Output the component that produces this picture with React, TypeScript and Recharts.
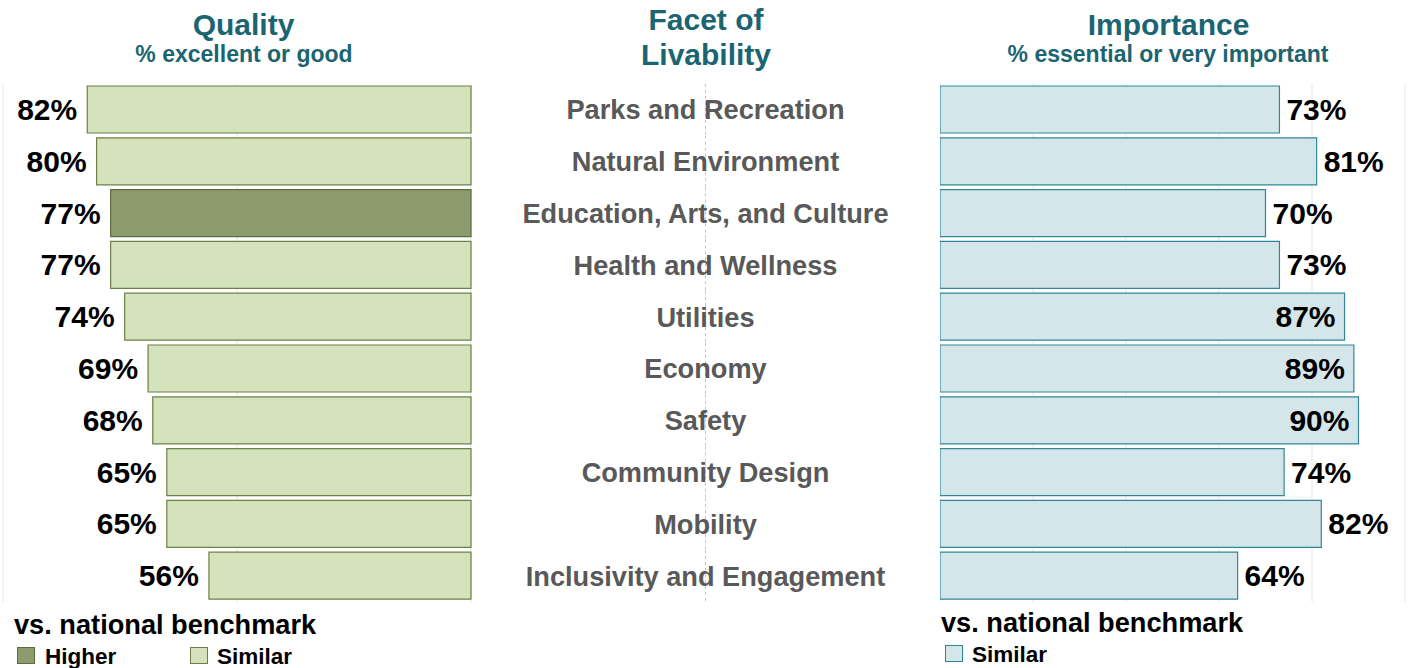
import { BarChart, Bar, XAxis, YAxis, CartesianGrid, Cell, LabelList } from "recharts";

const facets = [
  "Parks and Recreation",
  "Natural Environment",
  "Education, Arts, and Culture",
  "Health and Wellness",
  "Utilities",
  "Economy",
  "Safety",
  "Community Design",
  "Mobility",
  "Inclusivity and Engagement",
];
const quality = [82, 80, 77, 77, 74, 69, 68, 65, 65, 56];
const qualityBenchmark = ["Similar", "Similar", "Higher", "Similar", "Similar", "Similar", "Similar", "Similar", "Similar", "Similar"];
const importance = [73, 81, 70, 73, 87, 89, 90, 74, 82, 64];
const importanceBenchmark = ["Similar", "Similar", "Similar", "Similar", "Similar", "Similar", "Similar", "Similar", "Similar", "Similar"];

const data = facets.map((facet, i) => ({
  facet,
  quality: quality[i],
  qualityBench: qualityBenchmark[i],
  importance: importance[i],
  importanceBench: importanceBenchmark[i],
}));

const FONT = '"Liberation Sans", Arial, sans-serif';
const TEAL = "#1b6572";
const GREEN = { Higher: { fill: "#8c9c6c", stroke: "#5d6c3d" }, Similar: { fill: "#d5e3bc", stroke: "#6e7f47" } };
const BLUE = { fill: "#d5e6ea", stroke: "#2f8797" };

function CenterTick({ x, y, payload }: any) {
  const cx = x + 234.5;
  return (
    <g>
      <line x1={cx} x2={cx} y1={y - 26} y2={y + 26} stroke="#c4c4c4" strokeDasharray="3 3" />
      <text x={cx} y={y} dy={9.5} textAnchor="middle" fontFamily={FONT} fontWeight="bold" fontSize={27.2} fill="#595959">
        {payload.value}
      </text>
    </g>
  );
}

function QualityLabel({ x, y, width, height, value }: any) {
  const left = Math.min(x, x + width);
  return (
    <text x={left - 10} y={y + height / 2} dy={10.5} textAnchor="end" fontFamily={FONT} fontWeight="bold" fontSize={30} fill="#000">
      {value}%
    </text>
  );
}

function ImportanceLabel({ x, y, width, height, value }: any) {
  const right = Math.max(x, x + width);
  const inside = value > 85;
  return (
    <text
      x={inside ? right - 9 : right + 7}
      y={y + height / 2}
      dy={10.5}
      textAnchor={inside ? "end" : "start"}
      fontFamily={FONT}
      fontWeight="bold"
      fontSize={30}
      fill="#000"
    >
      {value}%
    </text>
  );
}

export default function App() {
  const t = { fontFamily: FONT, fontWeight: "bold" as const };
  return (
    <div style={{ position: "absolute", left: 0, top: 0, width: 1414, height: 668, background: "#fff", overflow: "hidden" }}>
      <svg width={1414} height={668} style={{ position: "absolute", left: 0, top: 0 }}>
        <text x={243.5} y={35} textAnchor="middle" fontSize={30} fill={TEAL} {...t}>Quality</text>
        <text x={244} y={62} textAnchor="middle" fontSize={23} fill={TEAL} {...t}>% excellent or good</text>
        <text x={706} y={30} textAnchor="middle" fontSize={30} fill={TEAL} {...t}>Facet of</text>
        <text x={706} y={65} textAnchor="middle" fontSize={30} fill={TEAL} {...t}>Livability</text>
        <text x={1168.5} y={35} textAnchor="middle" fontSize={30} fill={TEAL} {...t}>Importance</text>
        <text x={1168} y={62} textAnchor="middle" fontSize={23} fill={TEAL} {...t}>% essential or very important</text>

        <text x={14} y={634} fontSize={27.2} fill="#000" {...t}>vs. national benchmark</text>
        <rect x={17.5} y={647.5} width={17} height={16} fill={GREEN.Higher.fill} stroke={GREEN.Higher.stroke} />
        <text x={45} y={664} fontSize={22.5} fill="#000" {...t}>Higher</text>
        <rect x={190.5} y={647.5} width={17} height={16} fill={GREEN.Similar.fill} stroke={GREEN.Similar.stroke} />
        <text x={217} y={664} fontSize={22.5} fill="#000" {...t}>Similar</text>

        <text x={941} y={632} fontSize={27.2} fill="#000" {...t}>vs. national benchmark</text>
        <rect x={945.5} y={645.5} width={17} height={16} fill={BLUE.fill} stroke={BLUE.stroke} />
        <text x={972} y={662} fontSize={22.5} fill="#000" {...t}>Similar</text>
      </svg>

      <div style={{ position: "absolute", left: 0, top: 0 }}>
        <BarChart width={940} height={620} data={data} layout="vertical" margin={{ top: 84, right: 0, left: 3, bottom: 18 }}>
          <CartesianGrid horizontal={false} stroke="#e6e6e6" />
          <XAxis type="number" domain={[0, 100]} reversed hide ticks={[0, 50, 100]} />
          <YAxis
            type="category"
            dataKey="facet"
            orientation="right"
            width={469}
            axisLine={false}
            tickLine={false}
            tickSize={0}
            tickMargin={0}
            interval={0}
            tick={<CenterTick />}
          />
          <Bar dataKey="quality" barSize={47} isAnimationActive={false}>
            {data.map((d, i) => (
              <Cell key={i} fill={GREEN[d.qualityBench as "Higher" | "Similar"].fill} stroke={GREEN[d.qualityBench as "Higher" | "Similar"].stroke} strokeWidth={1.2} />
            ))}
            <LabelList dataKey="quality" content={<QualityLabel />} />
          </Bar>
        </BarChart>
      </div>

      <div style={{ position: "absolute", left: 940, top: 0 }}>
        <BarChart width={474} height={620} data={data} layout="vertical" margin={{ top: 84, right: 9, left: 0, bottom: 18 }}>
          <CartesianGrid horizontal={false} stroke="#e6e6e6" />
          <XAxis type="number" domain={[0, 100]} hide ticks={[0, 20, 40, 60, 80, 100]} />
          <YAxis type="category" dataKey="facet" hide />
          <Bar dataKey="importance" barSize={47} fill={BLUE.fill} stroke={BLUE.stroke} strokeWidth={1.2} isAnimationActive={false}>
            <LabelList dataKey="importance" content={<ImportanceLabel />} />
          </Bar>
        </BarChart>
      </div>
    </div>
  );
}
